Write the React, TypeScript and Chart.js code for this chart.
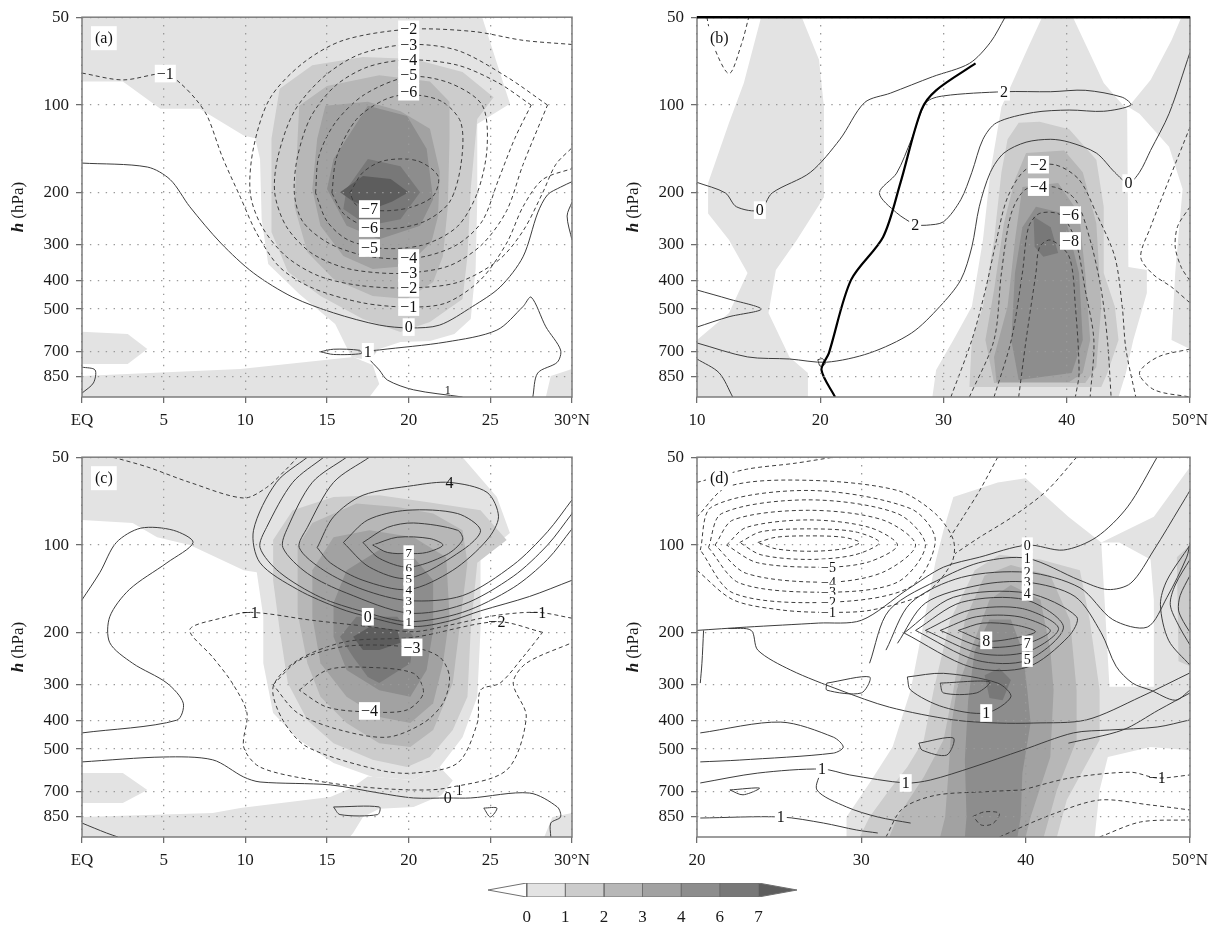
import React, { useEffect, useRef } from "react";
import { Chart, registerables } from "chart.js";

Chart.register(...registerables);

type Pt = [number, number];
type Lbl = [number, number, string, boolean?, number?];

const FONT = "'Liberation Serif', 'Times New Roman', serif";
const SHADES = ["#e3e3e3", "#cccccc", "#b7b7b7", "#a2a2a2", "#8d8d8d", "#787878", "#5d5d5d"];
const CB_TICKS = [0, 1, 2, 3, 4, 5, 6];
const CB_LABELS = ["0", "1", "2", "3", "4", "6", "7"];
const P_TICKS = [50, 100, 200, 300, 400, 500, 700, 850];
const X_TICKS_AC = [0, 5, 10, 15, 20, 25, 30];
const X_LABELS_AC = ["EQ", "5", "10", "15", "20", "25", "30°N"];
const X_TICKS_B = [10, 20, 30, 40, 50];
const X_LABELS_B = ["10", "20", "30", "40", "50°N"];
const X_TICKS_D = [20, 30, 40, 50];
const X_LABELS_D = ["20", "30", "40", "50°N"];

/* ---------------- panel (a) ---------------- */
const aFill0: Pt[][] = [
  [[0,50],[24.5,50],[26.2,99],[24.2,116],[24.2,210],[24.1,364],[23.8,540],[22.8,608],[21.3,643],[19.5,648],[18.2,685],[17.6,750],[16.5,730],[16.1,658],[15.5,562],[13.3,444],[11.4,350],[11,246],[10.9,153],[10.6,130],[9.9,127],[7.2,103],[4.8,103],[2.5,83],[0,83]],
  [[0,847],[9.7,802],[16.6,730],[17.8,777],[18.2,903],[17.6,1000],[0,1000]],
  [[0,598],[2.8,608],[4,685],[2.8,771],[0,771]],
  [[28.7,847],[30,802],[30,1000],[28.4,1000]],
];
const aFill1: Pt[][] = [[[12.1,88],[14.1,73],[17.2,68.5],[20.3,69.5],[23.3,77],[25.2,94],[24.2,111.5],[23.8,194],[23.6,329],[23.3,462],[21.3,553],[19.5,599],[17.2,540],[14.6,451],[12.6,372],[11.6,272],[11.6,130.5]]];
const aFill2: Pt[][] = [[[13.3,100.5],[15,86],[18.2,79],[21.3,83],[22.5,97.5],[22.5,130.5],[22.4,222],[22.1,329],[21.5,404],[19.9,462],[17.8,451],[15.4,394],[13.8,319],[13,222],[13.2,130.5]]];
const aFill3: Pt[][] = [[[14.9,100.5],[17.5,97.5],[19.5,105],[21.3,120.6],[21.9,169],[21.8,240],[21.4,294],[19.9,356],[17.8,364.5],[16,329],[14.6,259],[14.1,194],[14.4,130.5]]];
const aFill4: Pt[][] = [[[16.2,130.5],[17.5,100.5],[19.9,109],[21.1,141],[21.5,210],[20.7,259],[18.2,288],[16.2,259],[15,194],[15.4,153]]];
const aFill6: Pt[][] = [[[16.2,194],[17.5,153],[19.5,162],[20.7,199],[19.5,246],[17.5,259],[16,227]]];
const aFill7: Pt[][] = [[[15.8,199],[17.2,175],[18.9,179],[20,199],[19,214],[17.8,227],[16.6,214]]];
const aSolid: Pt[][] = [
  [[0,158],[4,163],[5.4,180],[6.6,223],[8.5,297],[10.5,376],[12.9,455],[15.4,515],[18.2,567],[20.1,580],[21.9,567],[23.9,490],[25.6,420],[27,331],[27.9,234],[28.5,203],[29.3,191],[30,183]],
  [[14.6,700],[15.4,686],[17,692],[17.1,710],[15.4,715],[14.6,700]],
  [[23.3,1000],[20.3,945],[18.7,875],[18.2,808],[17.5,730],[17.5,700],[18.2,690],[22.3,648],[25.4,590],[27,490],[27.5,455],[28.4,575],[29.3,690],[29.1,760],[27.9,828],[27.6,1000]],
  [[0,790],[0.8,808],[0.7,895],[0,970]],
  [[30,215],[29.7,240],[30,290]],
];
const aDashed: Pt[][] = [
  [[0,77.7],[2.5,82],[5.1,78],[6,84],[7,96],[7.7,110],[8.6,151],[9.7,207],[10.7,275],[12.1,359],[14.1,423],[17.2,476],[20.1,492],[22.3,476],[24.4,397],[26,297],[27,223],[28.2,180],[30,165]],
  [[30,62],[27,60],[24,56],[20,55],[16,60],[13.5,72],[11.5,95],[10.5,140],[10.3,200],[11,260],[12.5,330],[14.5,385],[17,415],[20,423],[23,405],[25.5,340],[27,270],[28.2,200],[29,160],[30,140]],
  [[28.5,100],[26,80],[23,65],[20,62],[17,67],[14.8,80],[13,105],[12,150],[11.8,200],[12.5,260],[14,320],[16,360],[18,375],[20,376],[22.5,355],[24.5,300],[26,230],[27,160],[28.5,100]],
  [[27.5,100],[25.5,84],[23,73],[20,70],[17.5,74],[15.5,86],[14,110],[13.2,150],[13,200],[13.5,250],[15,295],[17,325],[19,336],[21,330],[23,300],[24.5,250],[25.5,180],[26.5,130],[27.5,100]],
  [[14.3,200],[14.5,150],[15.5,115],[17.3,92],[20,80],[22.5,84],[24.5,100],[24.8,140],[24.2,200],[23,260],[21,300],[18.5,310],[16.3,290],[15,250],[14.3,200]],
  [[15.3,200],[15.6,150],[16.8,112],[18.5,96],[20,92],[22,97],[23.2,115],[23.2,160],[22.5,215],[21,250],[19,265],[17.2,258],[16,235],[15.3,200]],
  [[16.4,200],[17.2,170],[18.5,155],[20.5,155],[21.8,175],[21.5,205],[20,225],[18.2,230],[16.8,220],[16.4,200]],
];
const aLabels: Lbl[] = [
  [20,55,"−2"],[20,62,"−3"],[20,70,"−4"],[20,79,"−5"],[20,90,"−6"],[5.1,78,"−1"],
  [17.6,227,"−7"],[17.6,264,"−6"],[17.6,309,"−5"],
  [20,334,"−4"],[20,376,"−3"],[20,423,"−2"],[20,492,"−1"],[20,576,"0"],[17.5,700,"1"],[22.4,945,"1",false,12],
];

/* ---------------- panel (b) ---------------- */
const bFill0: Pt[][] = [
  [[15.2,50],[18.5,50],[19.9,70],[20.3,101.5],[20.3,207],[18.1,290],[16.4,367],[15.8,516],[17.5,729],[19,827],[19,1000],[10,1000],[10,638],[12.6,516],[14.1,376],[12.6,290],[10.9,235],[10.9,185],[12.6,115],[13.8,84]],
  [[34.7,101.5],[36.9,63],[38,50],[40.5,50],[43,84],[44.9,104],[45,359],[46.5,367],[46.5,440],[45.4,638],[44.8,827],[44.2,1000],[29.1,1000],[29.4,808],[30.8,638],[32.3,490],[33.2,290],[33.8,170]],
  [[45,101.5],[46.8,82],[48.5,60],[49.3,50],[50,50],[50,685],[48.5,638],[48.8,376],[49.4,194],[48.3,139],[45.9,107]],
];
const bFill1: Pt[][] = [[[36.1,115],[37.8,114],[40.2,121],[42.4,154],[43,223],[43,376],[43.9,490],[44.2,638],[43.3,827],[42.8,924],[32.1,924],[32.3,638],[33.2,490],[34.1,290],[34.7,170],[35.2,131]]];
const bFill2: Pt[][] = [[[36.7,146],[39.8,143],[41.3,170],[42.4,254],[42.8,490],[42.4,790],[41.5,895],[34.1,895],[33.4,638],[34.1,430],[34.9,254],[35.8,180]]];
const bFill3: Pt[][] = [[[36.4,191],[39.3,185],[41,235],[41.5,376],[41.9,638],[41.3,827],[40.2,888],[34.3,888],[34.1,729],[35.2,490],[35.8,290]]];
const bFill4: Pt[][] = [[[36.4,262],[37.5,223],[39.8,235],[41,376],[41.3,638],[40.4,827],[36.1,874],[35.5,638],[35.8,376]]];
const bFill6: Pt[][] = [[[37.3,241],[38.7,262],[39.3,321],[38.1,331],[37.4,306]]];
const bSolid: Pt[][] = [
  [[10,184],[12.3,200],[13.2,223],[15.1,229],[16.1,200],[19.2,170],[21.6,131],[23.6,98],[25.7,91],[29.1,80],[32.1,72],[33.8,61],[35,50]],
  [[27.7,258],[26.2,234],[24.8,200],[26.2,171],[27.4,131],[28.6,98],[30,93],[34.9,90],[38.7,90],[41.5,89],[44.5,94],[45.2,100],[43,105],[40.2,104],[37.3,106],[34.3,115],[33.2,131],[32.3,170],[31.4,211],[30,251],[28.6,258],[27.7,258]],
  [[50,66],[48.3,107],[46.8,143],[45.9,170],[45,185],[43.9,170],[42.4,146],[40.2,134],[38.7,131],[36.7,134],[34.9,146],[33.8,170],[32.9,223],[32.3,306],[31.4,397],[29.7,490],[27.4,604],[24,707],[20.5,760],[17.5,741],[14.1,729],[10,653]],
  [[10,430],[12.6,462],[15.2,500],[12.6,531],[10,576]],
  [[10,741],[11.8,827],[12.9,1000]],
  [[19.8,745],[20.2,740],[20.4,770],[20,785],[19.8,745]],
];
const bDashed: Pt[][] = [
  [[10.8,50],[11.3,62],[12.6,78],[13.6,62],[14.2,50]],
  [[30.6,1000],[32.3,638],[33.4,430],[34.3,290],[35.2,207],[36.7,166],[39,160],[41,180],[42.4,235],[43.9,331],[44.5,490],[44.8,685],[45.6,1000]],
  [[32.1,1000],[34.1,638],[34.7,376],[35.5,235],[36.7,194],[39,191],[40.7,211],[41.9,290],[42.8,430],[43.3,638],[43.6,1000]],
  [[34.1,1000],[35.5,638],[36.4,376],[36.9,262],[37.8,235],[39.5,238],[40.7,290],[41.5,430],[42.2,638],[41.9,1000]],
  [[36.1,1000],[36.7,638],[37.5,376],[37.8,306],[38.7,290],[40.2,331],[40.7,490],[41,827],[40.7,1000]],
  [[50,119],[48.3,180],[46.8,262],[46,331],[47,380],[48.5,420],[50,476]],
  [[50,223],[49,260],[48.8,306],[49.3,360],[50,400]],
  [[50,685],[47.4,729],[45.9,827],[47.1,945],[50,1000]],
];
const bThick: Pt[][] = [[[21.2,1000],[20.1,808],[20.7,707],[22.5,397],[25.1,283],[26.5,185],[28.2,104],[29.4,89],[32.6,72]]];
const bLabels: Lbl[] = [
  [15.1,229,"0"],[34.9,90,"2"],[27.7,258,"2"],[45,185,"0"],
  [37.7,160,"−2"],[37.7,191,"−4"],[40.3,238,"−6"],[40.3,292,"−8"],
];

/* ---------------- panel (c) ---------------- */
const cFill0: Pt[][] = [
  [[0,50],[23.3,50],[25.4,68.5],[26.2,91],[24.4,110],[24.4,195],[24.2,331],[23.3,455],[21.9,576],[20.3,638],[17.8,623],[15.4,558],[13.3,465],[11.7,376],[11.1,254],[11.1,176],[10.7,124],[9.9,122],[6.6,100],[4.6,94],[3.1,84],[0,82]],
  [[0,604],[2.5,604],[4,690],[2.5,765],[0,765]],
  [[0,854],[8,827],[9.7,796],[15.2,730],[16.5,680],[17.5,620],[20.3,638],[21.9,576],[22.7,640],[22,720],[20.3,790],[18.2,800],[17.2,854],[16.6,969],[16.4,1000],[0,1000]],
  [[28.8,854],[30,827],[30,1000],[28.3,1000]],
];
const cFill1: Pt[][] = [[[11.7,96],[12.9,76],[15.4,68.5],[18.2,67.5],[21.3,71.5],[24.4,76],[26,96],[24.2,115],[23.8,195],[23.6,331],[22.7,430],[21.3,532],[19.9,576],[17.8,544],[15.4,477],[13.8,398],[12.6,297],[12.1,195],[11.7,132]]];
const cFill2: Pt[][] = [[[13.2,101],[14.1,84],[16.8,72],[19.3,74],[21.5,78],[23.3,89],[23.6,115],[23.1,195],[22.7,297],[21.5,430],[20.1,492],[18.2,477],[16.2,407],[14.6,331],[13.8,254],[13.2,171]]];
const cFill3: Pt[][] = [[[14.1,122],[15.4,94],[17.6,89],[20.3,94],[22.3,110],[22.5,176],[22.1,254],[21.5,348],[20.1,407],[18.2,388],[16.2,331],[14.6,254],[14.1,176]]];
const cFill4: Pt[][] = [[[15.4,158],[16.2,122],[18.2,104],[20.3,110],[21.5,132],[21.5,195],[21.1,268],[20.1,331],[18.2,314],[16.2,268],[15.4,206]]];
const cFill6: Pt[][] = [[[15.8,206],[16.8,176],[19.3,176],[20.3,206],[20.1,254],[18.2,297],[17.5,283],[16.6,242]]];
const cFill7: Pt[][] = [[[16.6,206],[17.6,191],[19.3,195],[19.5,216],[18.2,229],[17.2,229]]];
const cSolid: Pt[][] = [
  [[17.8,100],[19.3,94],[21.3,95],[22.1,100],[21.1,106],[20,107],[18.7,106],[17.8,100]],
  [[17.2,98],[18.7,87],[20.3,84],[23,89],[23.3,96],[22.3,108],[20,119],[18.2,111],[17.2,98]],
  [[16,98],[17.5,82],[19.9,76],[23,78],[24.4,89],[23.3,104],[20,130],[17.6,119],[16,98]],
  [[14.4,102],[15.4,80],[17.2,67.5],[20.3,62.5],[22.5,61],[24.8,66],[25.5,80],[24.8,96],[22.7,122],[20,142],[17.2,132],[15.2,115],[14.4,102]],
  [[17.6,50],[15.4,61],[13.8,87],[13.3,102],[14.8,122],[17.2,142],[20,155],[23.3,149],[26.4,117],[28.5,90],[30,70]],
  [[16.2,50],[14.1,61],[12.6,87],[12.3,102],[13.8,125],[16.2,146],[20,171],[23.3,160],[26.4,128],[28.5,100],[30,78]],
  [[14.8,50],[12.9,61],[11.3,87],[10.9,102],[12.1,124],[14.6,151],[17.2,169],[20,183],[23.3,170],[26.4,140],[28.5,112],[30,88]],
  [[13.8,50],[11.9,61],[10.5,89],[10.9,115],[13.2,142],[15.8,165],[17.5,176],[20.3,190],[22.5,182],[24.4,168],[27.4,150],[30,132]],
  [[0,154],[1.1,124],[2.1,98],[3.6,87.5],[5.6,89],[6.8,98],[5.2,115],[2.9,142],[1.7,176],[1.7,216],[3.1,254],[5.2,297],[6.2,348],[5.8,398],[0,440]],
  [[0,553],[5,532],[8,544],[9.9,623],[10.9,648],[15.2,663],[18.2,707],[20.3,735],[22.4,735],[23.8,735],[27.4,707],[29.1,789],[29.3,854],[28.7,896],[28.7,1000]],
  [[15.4,789],[18.2,789],[18.1,838],[15.8,838],[15.4,789]],
  [[24.6,796],[25.4,796],[25,854],[24.6,796]],
  [[0,896],[1.5,969],[2.2,1000]],
];
const cDashed: Pt[][] = [
  [[1.9,50],[4,54],[6.6,61],[9.9,69],[11.3,63.5],[12.5,55],[13.2,50]],
  [[30,178],[27.9,170],[25.4,174],[22.5,188],[20.3,198],[17.5,190],[14.1,181],[10.3,170],[8.5,178],[6.6,195],[8,242],[9.2,297],[10.1,376],[9.9,492],[10.9,576],[14.1,638],[17.2,674],[20.3,690],[22.3,680],[26,590],[27.2,388],[26.4,297],[27.2,254],[30,216]],
  [[28.2,199],[25.4,183],[20.3,207],[16.2,214],[13.2,248],[11.7,306],[12.3,398],[13.8,492],[18.2,590],[20.3,604],[23,558],[24.2,407],[24.4,314],[25.6,297],[27,242],[28.2,199]],
  [[11.7,301],[13.3,248],[16.2,222],[20.2,224],[21.9,242],[22.5,283],[22.1,348],[20.9,407],[18.7,455],[15.8,430],[13.2,376],[11.7,301]],
  [[13.3,314],[15,268],[17.2,262],[20.3,275],[20.9,321],[19.9,367],[17.6,373],[15,359],[13.3,314]],
];
const cLabels: Lbl[] = [
  [20,106,"7",true,13],[20,119,"6",true,13],[20,130,"5",true,13],[20,142,"4",true,13],[20,155,"3",true,13],[20,171,"2",true,13],[20,183,"1",true,13],
  [17.5,176,"0"],[10.3,170,"−1",false],[20.2,224,"−3"],[17.6,370,"−4"],
  [22.5,61,"4",false],[27.9,170,"−1",false],[25.4,183,"−2",false],[22.4,735,"0",false],[23.1,690,"1",false,14],
];

/* ---------------- panel (d) ---------------- */
const dFill0: Pt[][] = [[[29.1,1000],[29.1,854],[30.5,653],[31.9,492],[33,314],[34.5,115],[35,89],[35.6,68.5],[38.3,61],[40,59],[42.6,80],[44.6,98],[47.8,80],[50,54],[50,1000]]];
const dHoles: Pt[][] = [
  [[44.6,98],[45.7,98],[47.6,112],[47.8,154],[47.8,306],[45.1,306],[44.8,154]],
  [[44.2,1000],[44.5,690],[45,532],[47.6,492],[50,504],[50,1000]],
];
const dFill1: Pt[][] = [
  [[29.9,1000],[30.5,854],[31.7,690],[32.8,576],[33.8,465],[34.4,314],[35.4,181],[36.9,122],[38.4,108],[40.9,112],[43.3,122],[43.9,181],[44.5,314],[44.5,465],[42.5,747],[41.9,1000]],
  [[49.2,110],[50,100],[50,260],[49.3,250]],
];
const dFill2: Pt[][] = [[[31.7,1000],[32.2,854],[33.8,623],[35,465],[35.6,314],[36.3,181],[37.5,127],[39.1,117],[41.5,127],[42.7,181],[43.1,314],[43.1,465],[41.9,690],[41.1,1000]]];
const dFill3: Pt[][] = [[[34.8,1000],[35.1,854],[35.3,604],[35.5,407],[35.8,314],[36.9,211],[37.8,154],[39.1,137],[40.9,154],[41.5,229],[41.7,314],[41.5,532],[40.3,854],[40,1000]]];
const dFill4: Pt[][] = [[[36.3,1000],[36.4,854],[36.3,545],[36.5,340],[36.9,230],[37.8,180],[39.1,180],[39.8,229],[40.1,314],[40.3,407],[39.8,604],[39.7,854],[39.5,1000]]];
const dFill6: Pt[][] = [[[37.5,279],[38.4,264],[39.1,290],[38.6,340],[37.8,334]]];
const dSolid: Pt[][] = [
  [[20,196],[23,191],[27.4,185],[30,181],[32.8,142],[35,119],[37.2,110],[40.1,100],[42.3,104],[44.3,94],[46.2,74],[48,50]],
  [[30.5,254],[31.7,167],[35,129],[37.4,114],[40.1,111],[43.3,132],[45,142],[46.4,135],[47.8,104],[49.4,74],[50,65]],
  [[31.5,229],[33,158],[36.1,129],[40.1,124],[43.3,140],[45.3,180],[47.4,191],[48.6,151],[49.8,110],[50,98]],
  [[32.2,217],[33.9,158],[37.2,137],[40.1,134],[43,150],[44.6,200],[45.5,260],[46.5,297],[47.6,314],[49.1,340],[50,314]],
  [[32.6,200],[35.6,151],[40.1,146],[43.1,176],[42.6,206],[40.1,262],[36.7,262],[32.6,200]],
  [[33.3,196],[36.1,157],[40,154],[42.3,191],[40.1,248],[37,248],[33.3,196]],
  [[33.9,196],[36.6,167],[39.8,165],[42,193],[40.1,232],[37.2,235],[33.9,196]],
  [[34.8,196],[37,176],[39.6,176],[41.5,196],[40.1,217],[37.4,223],[34.8,196]],
  [[35.9,196],[37.4,185],[39.4,188],[40.6,198],[39.4,208],[37.6,213],[35.9,196]],
  [[32.8,283],[35,275],[38.3,297],[39.1,331],[37.6,376],[35,359],[33,314],[32.8,283]],
  [[34.8,297],[37.8,294],[37,321],[35,321],[34.8,297]],
  [[20.2,297],[20.3,254],[20.4,196]],
  [[21.9,193],[23.3,196],[23.7,229],[25.7,268],[28.7,314],[31.7,359],[35.6,397],[38.3,407],[40.5,407],[43.7,397],[47,331],[50,274]],
  [[20.2,440],[25.1,404],[28.3,455],[28.9,492],[28.3,516],[22.6,545],[20.2,553]],
  [[20.2,653],[23.7,604],[27.6,585],[29.3,613],[32.7,653],[34.2,638],[36.8,576],[39.8,504],[42.9,440],[45.1,430],[48,420],[50,397]],
  [[20.2,861],[25.1,854],[27.7,896],[29.7,946],[31,969]],
  [[27.6,585],[27.3,690],[29.1,789],[31,854],[33,896]],
  [[27.9,297],[30.5,283],[30,321],[27.9,314],[27.9,297]],
  [[33.5,477],[35.6,458],[35.2,524],[33.7,504],[33.5,477]],
  [[22,690],[23.8,680],[22.8,717],[22,690]],
  [[50,112],[49.1,137],[48.8,160],[49.3,188],[50,220]],
  [[50,127],[49.4,149],[49.3,167],[49.6,183],[50,199]],
  [[50,100],[48.6,132],[48.2,160],[48.7,212],[50,258]],
  [[42.6,477],[45.9,430],[48.1,367],[50,321]],
];
const dDashed: Pt[][] = [
  [[23.7,98],[24.8,94],[26.8,93],[28.9,94],[29.9,98],[28.9,103],[26.8,105],[24.8,103],[23.7,98]],
  [[22.6,98],[23.9,90],[26.8,88],[29.6,90],[31.1,98],[29.6,108],[26.8,112],[23.9,108],[22.6,98]],
  [[21.8,100],[23,87],[26.8,82],[30.5,87],[32.2,100],[30.5,114],[28,119],[23.7,115],[21.8,100]],
  [[21.1,100],[22.2,82],[26.8,76],[31.3,82],[33.3,100],[31.3,124],[28,134],[23,125],[21.1,100]],
  [[20.7,102],[21.5,78],[26.8,70],[32.2,78],[33.9,100],[32.2,134],[28,145],[22.6,135],[20.7,102]],
  [[20.2,104],[20.9,74],[26.8,65],[33,75],[34.5,96],[33,139],[28,157],[22.2,146],[20.2,104]],
  [[20,122],[22.2,154],[25.2,167],[28,170],[30.6,167],[33.9,146],[35.5,115],[35.6,96],[34.5,78],[32.2,65],[26.8,60],[21.9,63],[20,80]],
  [[20,61],[23,55],[25.9,52.5],[28.3,50]],
  [[38.3,50],[37.2,65],[36.2,80],[35.4,94]],
  [[43.1,50],[41.3,65],[39.2,80],[37.2,94],[35.7,107]],
  [[39.8,690],[42.7,628],[46.4,600],[48,628],[50,613]],
  [[38.4,1000],[41.5,841],[44.5,747],[47.6,777],[50,808]],
  [[44.5,1000],[47,888],[50,874]],
  [[31.5,1000],[32.5,800],[34.5,720],[37.5,700],[39.8,690]],
  [[36.8,850],[37.5,820],[38.4,830],[38,900],[37.3,910],[36.8,850]],
];
const dLabels: Lbl[] = [
  [28,119,"−5",true,14],[28,134,"−4",true,14],[28,145,"−3",true,14],[28,157,"−2",true,14],[28,170,"−1",true,14],
  [40.1,100,"0",true,14],[40.1,111,"1",true,14],[40.1,124,"2",true,14],[40.1,134,"3",true,14],[40.1,146,"4",true,14],
  [37.6,212,"8"],[40.1,217,"7",true,14],[40.1,246,"5",true,14],
  [37.6,376,"1"],[27.6,585,"1"],[32.7,653,"1"],[25.1,854,"1"],[48,628,"−1",false],
];

/* ---------------- chart building ---------------- */
type Spec = {
  tag: string; xMin: number; xMax: number; xTicks: number[]; xLabels: string[];
  fills: [number, Pt[][]][]; holes: Pt[][]; solid: Pt[][]; dashed: Pt[][]; thick: Pt[][];
  labels: Lbl[]; boldTop: boolean;
};

const xy = (pts: Pt[]) => pts.map(([x, y]) => ({ x, y }));

function overlayPlugin(spec: Spec) {
  return {
    id: "overlay",
    afterDraw(chart: any) {
      const { ctx, chartArea: a, scales } = chart;
      const sx = scales.x, sy = scales.y;
      ctx.save();
      ctx.beginPath();
      ctx.rect(a.left, a.top, a.right - a.left, a.bottom - a.top);
      ctx.clip();
      ctx.textAlign = "center";
      ctx.textBaseline = "middle";
      for (const [lx, lp, text, boxed = true, size = 16] of spec.labels) {
        const px = sx.getPixelForValue(lx);
        const py = sy.getPixelForValue(lp);
        ctx.font = `${size}px ${FONT}`;
        const w = ctx.measureText(text).width;
        if (boxed) {
          ctx.fillStyle = "#ffffff";
          ctx.fillRect(px - w / 2 - 2, py - size * 0.55, w + 4, size * 1.1);
        }
        ctx.fillStyle = "#111111";
        ctx.fillText(text, px, py + 1);
      }
      // panel tag
      ctx.font = `16px ${FONT}`;
      const tw = ctx.measureText(spec.tag).width;
      ctx.fillStyle = "#ffffff";
      ctx.fillRect(a.left + 9, a.top + 9, tw + 8, 24);
      ctx.fillStyle = "#111111";
      ctx.fillText(spec.tag, a.left + 13 + tw / 2, a.top + 22);
      ctx.restore();

      // frame
      ctx.save();
      ctx.strokeStyle = "#7d7d7d";
      ctx.lineWidth = 1.5;
      ctx.strokeRect(a.left, a.top, a.right - a.left, a.bottom - a.top);
      if (spec.boldTop) {
        ctx.strokeStyle = "#000000";
        ctx.lineWidth = 2.5;
        ctx.beginPath();
        ctx.moveTo(a.left, a.top);
        ctx.lineTo(a.right, a.top);
        ctx.stroke();
      }
      ctx.restore();

      // y-axis title
      ctx.save();
      ctx.translate(a.left - 63, (a.top + a.bottom) / 2);
      ctx.rotate(-Math.PI / 2);
      ctx.textBaseline = "middle";
      ctx.textAlign = "left";
      ctx.fillStyle = "#1a1a1a";
      ctx.font = `italic bold 17px ${FONT}`;
      const hW = ctx.measureText("h").width;
      ctx.font = `17px ${FONT}`;
      const rW = ctx.measureText(" (hPa)").width;
      const start = -(hW + rW) / 2;
      ctx.font = `italic bold 17px ${FONT}`;
      ctx.fillText("h", start, 0);
      ctx.font = `17px ${FONT}`;
      ctx.fillText(" (hPa)", start + hW, 0);
      ctx.restore();
    },
  };
}

function panelConfig(spec: Spec, H: number, padRight: number): any {
  const datasets: any[] = [];
  spec.fills.forEach(([lvl, polys]) =>
    polys.forEach((poly) =>
      datasets.push({
        type: "line", data: xy(poly), backgroundColor: SHADES[lvl], borderWidth: 0,
        pointRadius: 0, fill: "shape", tension: 0, order: 100 - lvl * 10,
      })
    )
  );
  spec.holes.forEach((poly) =>
    datasets.push({
      type: "line", data: xy(poly), backgroundColor: "#ffffff", borderWidth: 0,
      pointRadius: 0, fill: "shape", tension: 0, order: 95,
    })
  );
  spec.solid.forEach((line) =>
    datasets.push({
      type: "line", data: xy(line), borderColor: "#3d3d3d", borderWidth: 1,
      pointRadius: 0, fill: false, tension: 0.3, order: 5,
    })
  );
  spec.dashed.forEach((line) =>
    datasets.push({
      type: "line", data: xy(line), borderColor: "#3d3d3d", borderWidth: 1, borderDash: [4, 3],
      pointRadius: 0, fill: false, tension: 0.3, order: 5,
    })
  );
  spec.thick.forEach((line) =>
    datasets.push({
      type: "line", data: xy(line), borderColor: "#000000", borderWidth: 2.2,
      pointRadius: 0, fill: false, tension: 0.3, order: 1,
    })
  );
  const grid = { color: "#9a9a9a", lineWidth: 1.3, z: 1, drawTicks: true, tickLength: 6, tickColor: "#666666", tickWidth: 1.2 };
  const border = { display: false, dash: [1.4, 6.5] };
  return {
    type: "line",
    data: { datasets },
    options: {
      responsive: false,
      animation: false,
      devicePixelRatio: 1,
      events: [],
      layout: { padding: { top: 17, right: padRight, left: 0, bottom: 0 } },
      plugins: { legend: { display: false }, tooltip: { enabled: false } },
      scales: {
        x: {
          type: "linear", min: spec.xMin, max: spec.xMax,
          afterBuildTicks: (s: any) => { s.ticks = spec.xTicks.map((v) => ({ value: v })); },
          afterFit: (s: any) => { s.height = H - 397; },
          ticks: {
            callback: (v: any) => { const i = spec.xTicks.indexOf(Number(v)); return i >= 0 ? spec.xLabels[i] : ""; },
            font: { size: 17, family: FONT }, color: "#1a1a1a", padding: 7, maxRotation: 0, autoSkip: false,
          },
          grid, border,
        },
        y: {
          type: "logarithmic", reverse: true, min: 50, max: 1000,
          afterBuildTicks: (s: any) => { s.ticks = P_TICKS.map((v) => ({ value: v })); },
          afterFit: (s: any) => { s.width = 82; },
          ticks: {
            callback: (v: any) => String(v),
            font: { size: 17, family: FONT }, color: "#1a1a1a", padding: 7, autoSkip: false,
          },
          grid, border,
        },
      },
    },
    plugins: [overlayPlugin(spec)],
  };
}

function colorbarConfig(): any {
  const datasets: any[] = [];
  const polys: { pts: Pt[]; color: string }[] = [];
  polys.push({ pts: [[0, 0], [-1, 0.5], [0, 1], [0, 0]], color: "#ffffff" });
  for (let i = 0; i < CB_TICKS.length - 1; i++) {
    polys.push({ pts: [[CB_TICKS[i], 0], [CB_TICKS[i + 1], 0], [CB_TICKS[i + 1], 1], [CB_TICKS[i], 1], [CB_TICKS[i], 0]], color: SHADES[i] });
  }
  const last = CB_TICKS[CB_TICKS.length - 1];
  polys.push({ pts: [[last, 0], [last + 1, 0.5], [last, 1], [last, 0]], color: SHADES[SHADES.length - 1] });
  polys.forEach((p) =>
    datasets.push({
      type: "line", data: xy(p.pts), backgroundColor: p.color, borderColor: "#707070", borderWidth: 1,
      pointRadius: 0, fill: "shape", tension: 0,
    })
  );
  return {
    type: "line",
    data: { datasets },
    options: {
      responsive: false, animation: false, devicePixelRatio: 1, events: [],
      layout: { padding: { top: 15, right: 18, left: 18, bottom: 0 } },
      plugins: { legend: { display: false }, tooltip: { enabled: false } },
      scales: {
        x: {
          type: "linear", min: -1, max: last + 1,
          afterBuildTicks: (s: any) => { s.ticks = CB_TICKS.map((v) => ({ value: v })); },
          afterFit: (s: any) => { s.height = 30; },
          ticks: {
            callback: (v: any) => { const i = CB_TICKS.indexOf(Number(v)); return i >= 0 ? CB_LABELS[i] : ""; },
            font: { size: 17, family: FONT }, color: "#1a1a1a", padding: 10, maxRotation: 0, autoSkip: false,
          },
          grid: { display: false, drawTicks: false },
          border: { display: false },
        },
        y: { type: "linear", min: 0, max: 1, display: false },
      },
    },
  };
}

function ChartCanvas({ config, left, top, width, height }: any) {
  const ref = useRef<HTMLCanvasElement | null>(null);
  useEffect(() => {
    const chart = new Chart(ref.current as HTMLCanvasElement, config);
    return () => chart.destroy();
  }, []);
  return (
    <canvas
      ref={ref}
      width={width}
      height={height}
      style={{ position: "absolute", left, top, width, height }}
    />
  );
}

const specA: Spec = {
  tag: "(a)", xMin: 0, xMax: 30, xTicks: X_TICKS_AC, xLabels: X_LABELS_AC,
  fills: [[0, aFill0], [1, aFill1], [2, aFill2], [3, aFill3], [4, aFill4], [5, aFill6], [6, aFill7]],
  holes: [], solid: aSolid, dashed: aDashed, thick: [], labels: aLabels, boldTop: false,
};
const specB: Spec = {
  tag: "(b)", xMin: 10, xMax: 50, xTicks: X_TICKS_B, xLabels: X_LABELS_B,
  fills: [[0, bFill0], [1, bFill1], [2, bFill2], [3, bFill3], [4, bFill4], [5, bFill6]],
  holes: [], solid: bSolid, dashed: bDashed, thick: bThick, labels: bLabels, boldTop: true,
};
const specC: Spec = {
  tag: "(c)", xMin: 0, xMax: 30, xTicks: X_TICKS_AC, xLabels: X_LABELS_AC,
  fills: [[0, cFill0], [1, cFill1], [2, cFill2], [3, cFill3], [4, cFill4], [5, cFill6], [6, cFill7]],
  holes: [], solid: cSolid, dashed: cDashed, thick: [], labels: cLabels, boldTop: false,
};
const specD: Spec = {
  tag: "(d)", xMin: 20, xMax: 50, xTicks: X_TICKS_D, xLabels: X_LABELS_D,
  fills: [[0, dFill0], [1, dFill1], [2, dFill2], [3, dFill3], [4, dFill4], [5, dFill6]],
  holes: dHoles, solid: dSolid, dashed: dDashed, thick: [], labels: dLabels, boldTop: false,
};

export default function App() {
  return (
    <div style={{ position: "absolute", left: 0, top: 0, width: 1230, height: 927, background: "#ffffff", overflow: "hidden" }}>
      <ChartCanvas config={panelConfig(specA, 440, 28)} left={0} top={0} width={600} height={440} />
      <ChartCanvas config={panelConfig(specB, 440, 40)} left={615} top={0} width={615} height={440} />
      <ChartCanvas config={panelConfig(specC, 440, 28)} left={0} top={440} width={600} height={440} />
      <ChartCanvas config={panelConfig(specD, 440, 40)} left={615} top={440} width={615} height={440} />
      <ChartCanvas config={colorbarConfig()} left={470} top={868} width={345} height={59} />
    </div>
  );
}
